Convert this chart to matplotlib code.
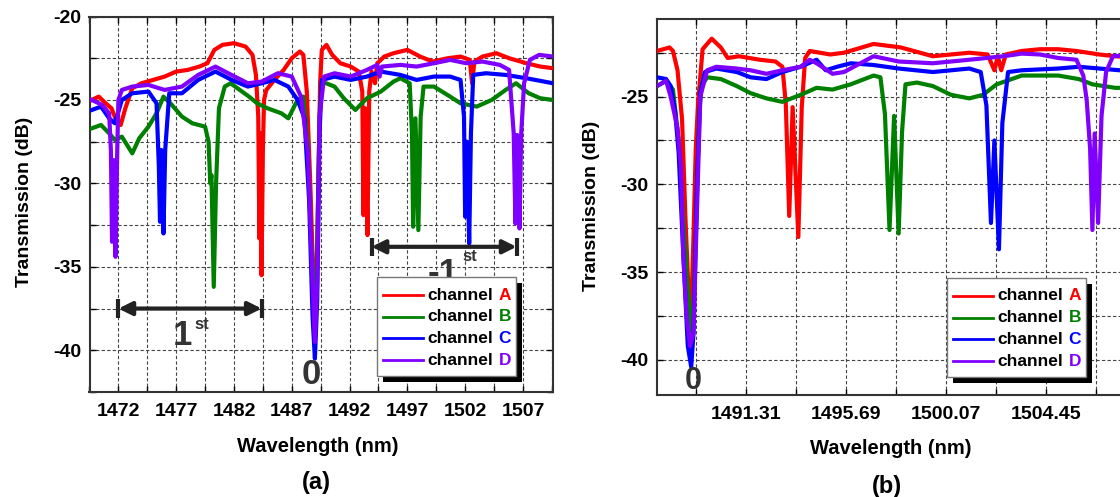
import matplotlib
matplotlib.use("Agg")
import matplotlib.pyplot as plt
from matplotlib.transforms import Affine2D
from matplotlib.patches import Rectangle
from matplotlib.lines import Line2D

W, H = 1120, 497

# ---- panel (a): full spectrum, wavelength (nm) / transmission (dB) ----
wl_a_A = [1469.7, 1470.3, 1470.9, 1471.4, 1471.8, 1472.2, 1472.6, 1473.2, 1474.0, 1475.0,
          1476.0, 1477.0, 1478.0, 1479.0, 1479.7, 1480.3, 1481.0, 1482.0, 1483.0, 1483.6,
          1483.9, 1484.1, 1484.2, 1484.28, 1484.38, 1484.5, 1484.6, 1484.8, 1485.5, 1486.3,
          1487.0, 1487.7, 1488.0, 1488.3, 1488.6, 1488.9, 1489.1, 1489.3, 1489.45, 1489.6,
          1490.0, 1490.5, 1491.2, 1492.1, 1492.8, 1493.1, 1493.2, 1493.35, 1493.55, 1493.7,
          1493.9, 1494.2, 1494.4, 1495.0, 1495.8, 1497.0, 1498.1, 1499.2, 1500.5, 1501.6,
          1502.4, 1502.6, 1502.8, 1503.5, 1504.7, 1505.8, 1507.3, 1508.5, 1509.6]
db_a_A = [-25.0, -24.8, -25.2, -25.5, -26.2, -26.5, -25.5, -24.3, -24.0, -23.8,
          -23.6, -23.3, -23.2, -23.0, -22.8, -22.0, -21.7, -21.6, -21.8, -22.3,
          -23.5, -26.0, -33.3, -27.0, -35.5, -28.0, -25.0, -24.4, -23.8, -23.2,
          -22.5, -22.1, -22.3, -24.5, -30.0, -36.5, -37.0, -30.0, -24.0, -22.0,
          -21.7, -22.3, -22.8, -23.0, -23.3, -24.5, -31.9, -25.5, -33.1, -24.5,
          -23.3, -24.0, -22.8, -22.4, -22.2, -22.0, -22.4, -22.7, -22.5, -22.4,
          -22.6, -24.0, -22.7, -22.4, -22.2, -22.5, -22.8, -23.0, -23.1]

wl_a_B = [1469.7, 1470.5, 1471.2, 1471.7, 1472.3, 1473.2, 1473.8, 1474.6, 1475.3, 1475.9,
          1476.5, 1477.5, 1478.4, 1479.5, 1479.8, 1479.95, 1480.05, 1480.25, 1480.45, 1480.7,
          1481.2, 1481.7, 1482.5, 1483.3, 1484.0, 1484.9, 1486.1, 1486.7, 1487.5, 1488.0,
          1488.4, 1488.8, 1489.0, 1489.2, 1489.4, 1489.6, 1490.7, 1491.5, 1492.5, 1493.5,
          1494.7, 1495.8, 1496.4, 1497.2, 1497.4, 1497.5, 1497.7, 1497.95, 1498.15, 1498.4,
          1499.3, 1500.7, 1501.6, 1503.0, 1504.3, 1505.5, 1506.4, 1507.5, 1508.5, 1509.6]
db_a_B = [-26.7, -26.5, -27.0, -27.4, -27.2, -28.2, -27.3, -26.6, -25.8, -24.8,
          -25.2, -26.0, -26.4, -26.6, -27.5, -30.0, -29.5, -36.2, -30.0, -25.5,
          -24.2, -24.0, -24.4, -24.8, -25.2, -25.5, -25.8, -26.1, -25.0, -24.8,
          -28.0, -36.0, -38.0, -34.0, -26.0, -23.9, -24.2, -24.9, -25.6, -24.9,
          -24.5, -23.9, -23.7, -24.0, -27.0, -32.6, -26.1, -32.8, -26.0, -24.2,
          -24.2, -24.8, -25.2, -25.4, -25.0, -24.4, -24.0, -24.6, -24.9, -25.0]

wl_a_C = [1469.7, 1470.5, 1471.2, 1471.7, 1472.3, 1473.2, 1474.6, 1475.3, 1475.5, 1475.6,
          1475.72, 1475.9, 1476.05, 1476.4, 1477.5, 1478.9, 1480.4, 1481.8, 1483.2, 1484.4,
          1485.5, 1486.7, 1487.5, 1488.1, 1488.5, 1488.8, 1489.0, 1489.2, 1489.4, 1489.6,
          1490.7, 1492.1, 1493.5, 1494.7, 1496.4, 1497.8, 1499.3, 1500.7, 1501.6, 1501.9,
          1502.0, 1502.15, 1502.35, 1502.5, 1502.7, 1503.8, 1505.5, 1507.3, 1509.6]
db_a_C = [-25.6, -25.4, -26.1, -26.4, -25.0, -24.6, -24.5, -25.2, -29.0, -32.3,
          -28.0, -33.0, -28.0, -24.6, -24.6, -23.8, -23.3, -23.8, -24.2, -24.0,
          -23.8, -24.2, -25.0, -26.1, -31.0, -38.0, -40.5, -37.0, -27.0, -23.8,
          -23.6, -23.8, -23.6, -23.3, -23.5, -23.8, -23.6, -23.6, -23.8, -26.0,
          -32.0, -27.5, -33.6, -27.0, -23.5, -23.4, -23.5, -23.7, -24.0]

wl_a_D = [1469.7, 1470.6, 1471.2, 1471.35, 1471.45, 1471.58, 1471.75, 1471.9, 1472.0, 1472.3,
          1473.2, 1474.6, 1476.0, 1477.5, 1478.9, 1480.4, 1481.5, 1483.2, 1484.4, 1485.8,
          1487.0, 1487.8, 1488.4, 1488.8, 1489.0, 1489.2, 1489.4, 1489.8, 1490.7, 1492.1,
          1493.5, 1494.4, 1494.6, 1494.8, 1496.4, 1497.8, 1499.3, 1500.7, 1502.1, 1503.5,
          1505.0, 1505.8, 1506.2, 1506.35, 1506.5, 1506.7, 1506.85, 1507.1, 1507.6, 1508.4,
          1509.6]
db_a_D = [-25.0, -25.3, -25.8, -28.0, -33.5, -28.6, -34.4, -28.0, -25.0, -24.4,
          -24.2, -24.1, -24.4, -24.2, -23.5, -23.0, -23.4, -24.0, -23.9, -23.4,
          -23.6, -24.8, -28.2, -36.0, -39.5, -36.0, -26.0, -23.6, -23.4, -23.6,
          -23.2, -22.9, -23.6, -23.0, -22.9, -23.0, -22.8, -22.6, -22.8, -22.7,
          -22.9, -23.2, -27.0, -32.4, -27.1, -32.7, -27.0, -24.0, -22.6, -22.3,
          -22.4]

# ---- panel (b): zoom around the 0th / -1st order ----
wl_b_A = [1487.4, 1487.95, 1488.1, 1488.3, 1488.5, 1488.65, 1488.8, 1488.9, 1489.0, 1489.1,
          1489.2, 1489.4, 1489.8, 1490.2, 1490.5, 1491.0, 1491.9, 1492.6, 1492.9, 1493.05,
          1493.2, 1493.35, 1493.6, 1493.75, 1493.9, 1494.1, 1495.0, 1495.6, 1496.9, 1498.1,
          1499.5, 1500.3, 1501.1, 1501.9, 1502.2, 1502.35, 1502.5, 1502.7, 1503.4, 1504.2,
          1505.0, 1505.8, 1506.8, 1507.5, 1508.5]
db_b_A = [-22.4, -22.2, -22.4, -23.5, -26.3, -32.0, -36.6, -37.3, -33.0, -28.0,
          -25.4, -22.3, -21.7, -22.2, -22.8, -22.7, -22.9, -23.0, -23.3, -25.4,
          -31.8, -25.6, -33.0, -25.6, -22.8, -22.4, -22.6, -22.5, -22.0, -22.2,
          -22.7, -22.6, -22.5, -22.6, -23.5, -22.7, -23.5, -22.6, -22.4, -22.3,
          -22.3, -22.4, -22.6, -22.7, -22.8]

wl_b_B = [1487.4, 1487.8, 1488.1, 1488.35, 1488.55, 1488.8, 1488.95, 1489.1, 1489.25, 1489.35,
          1489.6, 1490.2, 1490.9, 1491.5, 1492.2, 1492.9, 1493.7, 1494.4, 1495.1, 1495.9,
          1496.9, 1497.2, 1497.4, 1497.6, 1497.8, 1498.0, 1498.15, 1498.3, 1498.8, 1499.5,
          1500.3, 1501.1, 1501.7, 1502.3, 1503.4, 1505.0, 1505.9, 1506.5, 1507.5, 1508.5]
db_b_B = [-24.4, -24.1, -24.6, -27.5, -32.0, -37.0, -38.5, -33.0, -26.0, -24.4,
          -23.9, -24.0, -24.4, -24.8, -25.1, -25.3, -24.9, -24.5, -24.6, -24.3,
          -23.8, -23.9, -26.0, -32.6, -26.1, -32.8, -27.0, -24.3, -24.2, -24.4,
          -24.9, -25.1, -24.9, -24.3, -23.8, -23.8, -24.0, -24.3, -24.5, -24.5]

wl_b_C = [1487.4, 1487.8, 1488.0, 1488.2, 1488.35, 1488.55, 1488.75, 1488.9, 1489.0, 1489.15,
          1489.3, 1489.5, 1490.0, 1490.9, 1491.5, 1492.2, 1492.9, 1493.7, 1494.4, 1494.8,
          1495.3, 1495.9, 1496.9, 1498.0, 1499.5, 1500.3, 1501.1, 1501.6, 1501.85, 1502.05,
          1502.2, 1502.4, 1502.55, 1502.8, 1503.4, 1505.0, 1505.9, 1506.8, 1507.7, 1508.5]
db_b_C = [-23.9, -24.0, -24.4, -25.9, -28.2, -33.9, -39.2, -40.4, -38.5, -30.1,
          -24.8, -23.6, -23.4, -23.6, -23.9, -24.0, -23.6, -23.3, -22.9, -23.5,
          -23.3, -23.1, -23.2, -23.4, -23.6, -23.5, -23.4, -23.6, -25.5, -32.2,
          -27.5, -33.7, -26.5, -23.6, -23.5, -23.4, -23.3, -23.4, -23.5, -23.6]

wl_b_D = [1487.4, 1487.8, 1488.0, 1488.3, 1488.45, 1488.55, 1488.7, 1488.85, 1489.0, 1489.1,
          1489.3, 1489.6, 1490.0, 1490.9, 1491.5, 1492.2, 1492.9, 1493.7, 1494.1, 1494.4,
          1495.1, 1495.6, 1496.9, 1498.0, 1499.5, 1501.1, 1502.6, 1503.4, 1504.2, 1505.0,
          1505.8, 1506.1, 1506.25, 1506.4, 1506.5, 1506.6, 1506.75, 1506.9, 1507.1, 1507.4,
          1508.5]
db_b_D = [-24.4, -24.1, -25.0, -26.8, -29.0, -33.9, -37.5, -39.2, -38.5, -33.9,
          -25.0, -23.5, -23.3, -23.4, -23.5, -23.7, -23.5, -23.3, -22.9, -23.1,
          -23.7, -23.6, -22.7, -23.0, -23.1, -22.9, -22.7, -22.55, -22.6, -22.8,
          -22.9, -23.8, -25.2, -28.0, -32.6, -27.1, -32.2, -26.1, -23.6, -22.7,
          -22.6]

channels = ["A", "B", "C", "D"]
colors = ["#ff0000", "#008000", "#0000ff", "#8000ff"]

ticks_b = [1491.31, 1495.69, 1500.07, 1504.45]
minor_b = [1489.12, 1493.50, 1497.88, 1502.26, 1506.64]

plt.rcParams["font.family"] = ["Liberation Sans", "DejaVu Sans"]
plt.rcParams["font.weight"] = "bold"
plt.rcParams["axes.unicode_minus"] = False

fig = plt.figure(figsize=(W / 100, H / 100), dpi=100)
# figure pixel coords, origin top-left
px = Affine2D().scale(1.0 / W, -1.0 / H).translate(0, 1) + fig.transFigure


def frac(l, t, r, b):
    return [l / W, 1 - b / H, (r - l) / W, (b - t) / H]


ax_a = fig.add_axes(frac(89.5, 16.5, 553, 392))
ax_b = fig.add_axes(frac(657, 18.5, 1138, 395))

data_a = [(wl_a_A, db_a_A), (wl_a_B, db_a_B), (wl_a_C, db_a_C), (wl_a_D, db_a_D)]
data_b = [(wl_b_A, db_b_A), (wl_b_B, db_b_B), (wl_b_C, db_b_C), (wl_b_D, db_b_D)]

for ax, data in [(ax_a, data_a), (ax_b, data_b)]:
    for (x, y), c in zip(data, colors):
        ax.plot(x, y, color=c, lw=3.0, solid_joinstyle="round", zorder=3)

ax_a.set_xlim(1469.7, 1509.6)
ax_a.set_ylim(-42.5, -20)
ax_a.set_xticks(range(1472, 1508, 5))
ax_a.set_xticks([1469.5 + 5 * i for i in range(9)], minor=True)
ax_a.set_yticks([-20, -25, -30, -35, -40])
ax_a.set_yticks([-22.5, -27.5, -32.5, -37.5, -42.5], minor=True)

ax_b.set_xlim(1487.4, 1508.5)
ax_b.set_ylim(-42.0, -20.55)
ax_b.set_xticks(ticks_b)
ax_b.set_xticklabels(["%.2f" % t for t in ticks_b])
ax_b.set_xticks(minor_b, minor=True)
ax_b.set_yticks([-25, -30, -35, -40])
ax_b.set_yticks([-22.5, -27.5, -32.5, -37.5], minor=True)

for ax in (ax_a, ax_b):
    ax.grid(True, which="both", color="#444444", lw=0.8, ls=(0, (3, 2)), zorder=1)
    ax.set_axisbelow(True)
    ax.tick_params(which="both", direction="in", top=True, right=True,
                   length=4, width=1, labelsize=14)
    ax.tick_params(axis="x", pad=8)
    ax.tick_params(axis="y", pad=6)
    for s in ax.spines.values():
        s.set_linewidth(1.5)
        s.set_color("#333333")

# order markers (arrows + labels) on panel (a)
ink = "#222222"


def span_arrow(ax, x0, x1, y):
    ax.annotate("", xy=(x1, y), xytext=(x0, y),
                arrowprops=dict(arrowstyle="<|-|>", color=ink, lw=3,
                                mutation_scale=20, shrinkA=0, shrinkB=0),
                zorder=4)
    ax.plot([x0, x0], [y - 0.55, y + 0.55], color=ink, lw=3, solid_capstyle="butt", zorder=4)
    ax.plot([x1, x1], [y - 0.55, y + 0.55], color=ink, lw=3, solid_capstyle="butt", zorder=4)


span_arrow(ax_a, 1472.0, 1484.4, -37.5)
span_arrow(ax_a, 1493.9, 1506.45, -33.8)
ax_a.text(1477.5, -39.1, "1", fontsize=25, color="#333333", ha="center", va="center", zorder=4)
ax_a.text(1478.6, -38.0, "st", fontsize=12, color="#333333", ha="left", va="top", zorder=4)
ax_a.text(1500.1, -35.4, "-1", fontsize=25, color="#333333", ha="center", va="center", zorder=4)
ax_a.text(1501.8, -33.95, "st", fontsize=12, color="#333333", ha="left", va="top", zorder=4)
ax_a.text(1488.7, -41.45, "0", fontsize=25, color="#333333", ha="center", va="center", zorder=4)
ax_b.text(1488.98, -41.2, "0", fontsize=22, color="#333333", ha="center", va="center", zorder=4)


def draw_legend(left, top):
    w, h, off = 139, 99, 6
    fig.add_artist(Rectangle((left + off, top + off + h), w, -h, transform=px,
                             facecolor="black", edgecolor="none", zorder=5))
    fig.add_artist(Rectangle((left, top + h), w, -h, transform=px,
                             facecolor="white", edgecolor="#777777", lw=1, zorder=6))
    for i, (ch, c) in enumerate(zip(channels, colors)):
        yy = top + 18 + i * 21.7
        fig.add_artist(Line2D([left + 6, left + 46], [yy, yy], transform=px,
                              color=c, lw=2, zorder=7))
        fig.text(left + 50, yy, "channel", transform=px, fontsize=12.5,
                 ha="left", va="center", color="black", zorder=7)
        fig.text(left + 121.5, yy, ch, transform=px, fontsize=12.5,
                 ha="left", va="center", color=c, zorder=7)


draw_legend(377, 277)
draw_legend(947, 278)

fig.text(25, 202, "Transmission (dB)", transform=px, rotation=90, fontsize=14,
         ha="center", va="center")
fig.text(592, 206, "Transmission (dB)", transform=px, rotation=90, fontsize=14,
         ha="center", va="center")
fig.text(318, 446, "Wavelength (nm)", transform=px, fontsize=14.5, ha="center", va="center")
fig.text(891, 449, "Wavelength (nm)", transform=px, fontsize=14.5, ha="center", va="center")
fig.text(316, 483, "(a)", transform=px, fontsize=17, ha="center", va="center")
fig.text(887, 486, "(b)", transform=px, fontsize=17, ha="center", va="center")

fig.savefig("out.png", dpi=100)
